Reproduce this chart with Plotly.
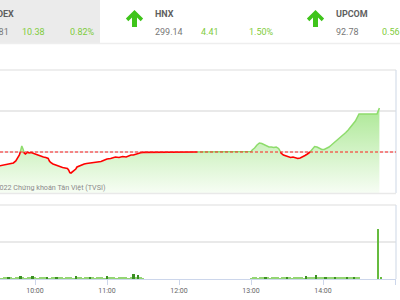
import plotly.graph_objects as go
import pandas as pd

DAY = "2022-01-01 "

# ---------------- header data ----------------
index_names = ["VNINDEX", "HNX", "UPCOM"]
index_values = ["1276.81", "299.14", "92.78"]
index_changes = ["10.38", "4.41", "0.56"]
index_pcts = ["0.82%", "1.50%", "0.61%"]

# ---------------- main (index) line ----------------
REF = 1266.43
line_times = [
    "09:26", "09:30", "09:34", "09:38", "09:42", "09:44", "09:46", "09:47", "09:48", "09:49",
    "09:50", "09:51", "09:52", "09:53", "09:54", "09:55", "09:57", "09:59", "10:01", "10:03",
    "10:05", "10:07", "10:09", "10:11", "10:12", "10:13", "10:15", "10:17", "10:19", "10:21",
    "10:23", "10:25", "10:27", "10:28", "10:29", "10:30", "10:31", "10:32", "10:34", "10:35",
    "10:37", "10:39", "10:41", "10:43", "10:46", "10:49", "10:52", "10:55", "10:58", "11:00",
    "11:03", "11:05", "11:07", "11:10", "11:13", "11:16", "11:18", "11:20", "11:22", "11:24",
    "11:26", "11:28", "11:30",
    "13:00", "13:01", "13:03", "13:05", "13:07", "13:09", "13:11", "13:13", "13:15", "13:17",
    "13:19", "13:21", "13:23", "13:24", "13:25", "13:27", "13:29", "13:31", "13:33", "13:35",
    "13:37", "13:39", "13:41", "13:43", "13:45", "13:47", "13:49", "13:51", "13:53", "13:55",
    "13:57", "13:59", "14:01", "14:03", "14:05", "14:07", "14:09", "14:11", "14:13", "14:15",
    "14:17", "14:19", "14:21", "14:23", "14:25", "14:27", "14:29", "14:30", "14:45", "14:46",
    "14:47",
]
line_values = [
    1262.89, 1263.13, 1263.25, 1263.48, 1263.84, 1264.31, 1265.13, 1265.72, 1266.67, 1267.85,
    1267.14, 1266.19, 1265.96, 1266.31, 1266.38, 1266.19, 1266.31, 1266.08, 1265.84, 1265.72,
    1265.49, 1265.25, 1265.13, 1264.90, 1264.31, 1263.95, 1263.60, 1263.36, 1263.13, 1262.89,
    1262.77, 1262.66, 1262.54, 1262.18, 1261.59, 1261.48, 1261.71, 1261.83, 1262.42, 1262.89,
    1263.13, 1263.48, 1263.60, 1263.72, 1263.84, 1263.95, 1264.07, 1264.19, 1264.54, 1264.78,
    1264.90, 1265.13, 1265.25, 1265.13, 1265.37, 1265.25, 1265.49, 1265.72, 1265.72, 1265.96,
    1266.08, 1266.24, 1266.34,
    1266.52, 1266.90, 1267.37, 1268.08, 1268.55, 1268.44, 1268.20, 1267.85, 1267.61, 1267.61,
    1267.49, 1267.61, 1267.26, 1266.78, 1266.19, 1265.72, 1265.49, 1265.25, 1265.13, 1265.25,
    1265.01, 1264.90, 1265.01, 1265.25, 1265.60, 1265.96, 1266.36, 1267.14, 1267.73, 1267.61,
    1267.26, 1267.02, 1267.02, 1267.26, 1267.61, 1268.08, 1268.55, 1269.02, 1269.50, 1269.97,
    1270.44, 1271.03, 1271.62, 1272.45, 1273.04, 1273.74, 1274.92, 1275.39, 1275.39, 1276.34,
    1276.81,
]

# ---------------- volume bars ----------------
vol_am_start, vol_pm_start = "09:26", "13:00"
vol_am = [0.6, 0.5, 0.6, 0.5, 0.6, 0.6, 1.3, 0.6, 0.5, 0.6, 0.6, 1.5, 0.6, 0.5, 0.6, 0.6,
          1.4, 0.6, 0.5, 0.6, 0.6, 0.6, 1.3, 0.5, 0.6, 0.6, 1.2, 0.6, 0.6, 0.5, 0.6, 0.6,
          0.6, 0.5, 1.6, 0.6, 0.6, 0.5, 0.6, 0.6, 1.2, 0.6, 0.5, 0.6, 0.6, 0.6, 0.5, 1.4,
          0.6, 0.6, 0.6, 0.5, 0.6, 0.6, 0.6, 0.6, 0.5, 0.6, 2.6, 0.6, 2.2, 0.6, 0.5]
vol_pm = [0.5, 0.6, 0.6, 0.5, 0.6, 0.6, 1.3, 0.6, 0.5, 0.6, 0.6, 0.6, 0.5, 0.6, 0.6, 1.3,
          0.6, 0.5, 0.6, 0.6, 0.7, 0.6, 0.5, 1.5, 0.6, 0.6, 0.6, 2.0, 0.8, 0.6, 0.7, 1.1,
          0.6, 0.8, 0.6, 1.1, 0.7, 0.6, 0.8, 0.6, 1.0, 0.7, 0.8, 1.2, 0.6, 0.7]
atc_times = ["14:46", "14:48"]
atc_vol = [27.0, 0.6]

# ---------------- geometry helpers (pixel -> paper) ----------------
W, H = 400, 300
ML, MR, MT, MB = 0, 4, 70, 21
PW, PH = W - ML - MR, H - MT - MB
def px(x):
    return (x - ML) / PW
def py(y):
    return (H - MB - y) / PH

K = 44 / 10.38          # pixels per index point
G = 41 / K              # gridline step
y_lo, y_hi = REF - G, REF + 2 * G

ts = pd.to_datetime([DAY + t for t in line_times])
tnum = ts.astype("int64")

# split the line into red (below ref) and green (above ref) pieces
red_x, red_y, grn_x, grn_y = [], [], [], []
for i in range(len(ts)):
    v = line_values[i]
    if i > 0:
        v0 = line_values[i - 1]
        if (v0 - REF) * (v - REF) < 0:
            f = (REF - v0) / (v - v0)
            tc = pd.Timestamp(int(tnum[i - 1] + f * (tnum[i] - tnum[i - 1])))
            red_x.append(tc); red_y.append(REF)
            grn_x.append(tc); grn_y.append(REF)
            if v > REF:
                red_x.append(None); red_y.append(None)
            else:
                grn_x.append(None); grn_y.append(None)
    if v >= REF:
        grn_x.append(ts[i]); grn_y.append(v)
    else:
        red_x.append(ts[i]); red_y.append(v)

vol_am_t = pd.date_range(DAY + vol_am_start, periods=len(vol_am), freq="2min")
vol_pm_t = pd.date_range(DAY + vol_pm_start, periods=len(vol_pm), freq="2min")
vol_t = list(vol_am_t) + list(vol_pm_t)
vol_v = vol_am + vol_pm
vol_c = ["#3a8f22" if v >= 1.0 else "#93d573" for v in vol_v]

fig = go.Figure()

fig.add_trace(go.Scatter(
    x=ts, y=line_values, mode="none", fill="tozeroy",
    fillgradient=dict(type="vertical",
                      colorscale=[[0, "rgba(246,253,243,1)"], [1, "rgba(138,222,106,1)"]],
                      start=y_lo, stop=y_hi),
    hoverinfo="skip", xaxis="x", yaxis="y"))
fig.add_trace(go.Scatter(x=grn_x, y=grn_y, mode="lines",
                         line=dict(color="#8edc6c", width=1.5), connectgaps=False,
                         xaxis="x", yaxis="y"))
fig.add_trace(go.Scatter(x=red_x, y=red_y, mode="lines",
                         line=dict(color="#ff0000", width=1.6), connectgaps=False,
                         xaxis="x", yaxis="y"))

fig.add_trace(go.Bar(x=vol_t, y=vol_v, marker=dict(color=vol_c, line=dict(width=0)),
                     width=120000, xaxis="x2", yaxis="y2"))
fig.add_trace(go.Bar(x=pd.to_datetime([DAY + t for t in atc_times]), y=atc_vol,
                     marker=dict(color="#66bb3f", line=dict(width=0)),
                     width=55000, xaxis="x2", yaxis="y2"))

x_range = [DAY + "09:30:50", DAY + "15:00:50"]
tick_hours = ["10:00", "11:00", "12:00", "13:00", "14:00", "15:00"]
tickvals = [DAY + t for t in tick_hours]

fig.update_layout(
    width=W, height=H, margin=dict(l=ML, r=MR, t=MT, b=MB),
    paper_bgcolor="white", plot_bgcolor="white", showlegend=False,
    bargap=0, font=dict(family="Roboto", color="#666666"),
    xaxis=dict(type="date", range=x_range, domain=[0, 1], anchor="y",
               showticklabels=False, showgrid=False, zeroline=False, showline=False,
               matches="x2"),
    yaxis=dict(range=[y_lo, y_hi], domain=[py(193), 1], anchor="x",
               tickvals=[REF, REF + G], showticklabels=False, showgrid=True,
               gridcolor="#e9e9e9", gridwidth=1.5, zeroline=False, showline=False),
    xaxis2=dict(type="date", range=x_range, domain=[0, 1], anchor="y2",
                tickvals=tickvals, ticktext=tick_hours, ticks="outside", ticklen=5,
                tickcolor="#ccd6eb", showgrid=False, zeroline=False, showline=True,
                linecolor="#ccd6eb", linewidth=1,
                tickfont=dict(size=7, color="#666666", family="Roboto")),
    yaxis2=dict(range=[0, 40], domain=[0, py(205)], anchor="x2",
                tickvals=[20], showticklabels=False, showgrid=True,
                gridcolor="#e9e9e9", gridwidth=1.5, zeroline=False, showline=False),
)

shapes = []
# header background and separator
shapes.append(dict(type="rect", xref="paper", yref="paper", x0=px(-5), x1=px(100),
                   y0=py(43), y1=py(-5), fillcolor="#ebebeb", line=dict(width=0), layer="below"))
shapes.append(dict(type="line", xref="paper", yref="paper", x0=px(-5), x1=px(405),
                   y0=py(43.5), y1=py(43.5), line=dict(color="#eeeeee", width=1.5)))
# panel borders
for (t, b) in [(70, 193), (205, 279)]:
    shapes.append(dict(type="line", xref="paper", yref="paper", x0=0, x1=px(396),
                       y0=py(t), y1=py(t), line=dict(color="#e9e9e9", width=1.5)))
    shapes.append(dict(type="line", xref="paper", yref="paper", x0=px(396), x1=px(396),
                       y0=py(t), y1=py(b), line=dict(color="#d6deea", width=1.2)))
shapes.append(dict(type="line", xref="paper", yref="paper", x0=0, x1=px(396),
                   y0=py(193.5), y1=py(193.5), line=dict(color="#e9e9e9", width=1.5)))
# reference (previous close) line
shapes.append(dict(type="line", xref="paper", yref="y", x0=0, x1=1, y0=REF, y1=REF,
                   line=dict(color="#ff2020", width=1, dash="3px,2px")))

# arrows
def arrow(cx):
    pts = [(cx, 10), (cx + 8.6, 18.6), (cx + 6.2, 21.2), (cx + 2.5, 17.5), (cx + 2.5, 27),
           (cx - 2.5, 27), (cx - 2.5, 17.5), (cx - 6.2, 21.2), (cx - 8.6, 18.6)]
    path = "M " + " L ".join(f"{px(a):.5f},{py(b):.5f}" for a, b in pts) + " Z"
    return dict(type="path", xref="paper", yref="paper", path=path,
                fillcolor="#3fc41b", line=dict(width=0))

group_x = [-24, 155, 336]
for gx in group_x:
    shapes.append(arrow(gx - 20.5))
fig.update_layout(shapes=shapes)

ann = []
def text(x, y, s, size=9, color="#777777", bold=False, anchor="left"):
    ann.append(dict(xref="paper", yref="paper", x=px(x), y=py(y), text=f"<b>{s}</b>" if bold else s,
                    showarrow=False, xanchor=anchor, yanchor="middle", borderpad=0,
                    font=dict(size=size, color=color, family="Roboto")))

for gx, n, v, c, p in zip(group_x, index_names, index_values, index_changes, index_pcts):
    text(gx - 1, 13.5, n, color="#5f5f5f", bold=True)
    text(gx - 1, 31.5, v, color="#777777")
    text(gx + 45, 31.5, c, color="#7fcc3c")
    text(gx + 93, 31.5, p, color="#7fcc3c")

text(106, 187.5, "© 2022 Chứng khoán Tân Việt (TVSI)", size=7.2, color="#8a8a8a", anchor="right")
fig.update_layout(annotations=ann)

fig.write_html("out.html")
